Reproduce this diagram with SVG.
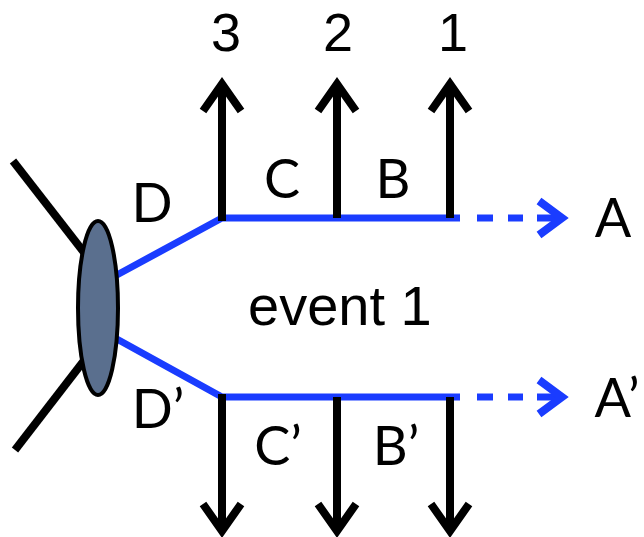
<svg xmlns="http://www.w3.org/2000/svg" width="644" height="537" viewBox="0 0 644 537">
  <style>
    .blk { stroke: #000; stroke-width: 8; fill: none; }
    .head { stroke: #000; stroke-width: 8; fill: none; stroke-linejoin: miter; stroke-miterlimit: 4; }
    .blue { stroke: #1a3cff; stroke-width: 7; fill: none; }
    .bhead { stroke: #1a3cff; stroke-width: 8; fill: none; stroke-linejoin: miter; }
    .lbl { font-family: Lato, "Open Sans", sans-serif; font-size: 54px; fill: #000; text-anchor: middle; }
    .num { font-family: "Liberation Sans", Arial, sans-serif; font-size: 54px; fill: #000; text-anchor: middle; }
    .ev { font-family: "Liberation Sans", Arial, sans-serif; font-size: 56px; fill: #000; }
  </style>

  <!-- connectors -->
  <g id="connectors">
    <!-- incoming legs -->
    <line class="blk" x1="13" y1="161" x2="86" y2="255"/>
    <line class="blk" x1="86" y1="358" x2="15" y2="450"/>

    <!-- upper blue path -->
    <polyline class="blue" points="115,276 222,218 460,218"/>
    <line class="blue" x1="477" y1="218" x2="493" y2="218"/>
    <line class="blue" x1="508" y1="218" x2="523" y2="218"/>
    <line class="blue" x1="537" y1="218" x2="561" y2="218"/>
    <polyline class="bhead" points="539,201 562,218 539,235"/>

    <!-- lower blue path -->
    <polyline class="blue" points="115,338 222,397 460,397"/>
    <line class="blue" x1="477" y1="397" x2="493" y2="397"/>
    <line class="blue" x1="508" y1="397" x2="523" y2="397"/>
    <line class="blue" x1="537" y1="397" x2="561" y2="397"/>
    <polyline class="bhead" points="539,380 562,397 539,414"/>

    <!-- upward emissions -->
    <line class="blk" x1="222" y1="221" x2="222" y2="86"/>
    <polyline class="head" points="203,111 222,84 241,111"/>
    <line class="blk" x1="337" y1="218" x2="337" y2="86"/>
    <polyline class="head" points="318,111 337,84 356,111"/>
    <line class="blk" x1="450" y1="218" x2="450" y2="86"/>
    <polyline class="head" points="431,111 450,84 469,111"/>

    <!-- downward emissions -->
    <line class="blk" x1="222" y1="394" x2="222" y2="529"/>
    <polyline class="head" points="203,504 222,531 241,504"/>
    <line class="blk" x1="337" y1="397" x2="337" y2="529"/>
    <polyline class="head" points="318,504 337,531 356,504"/>
    <line class="blk" x1="450" y1="397" x2="450" y2="529"/>
    <polyline class="head" points="431,504 450,531 469,504"/>
  </g>

  <!-- vertex blob -->
  <g id="vertex">
    <ellipse cx="98" cy="308" rx="20" ry="87" fill="#5a6f8e" stroke="#000" stroke-width="4"/>
  </g>

  <!-- labels -->
  <g id="labels">
    <text class="num" x="226" y="51">3</text>
    <text class="num" x="338" y="51">2</text>
    <text class="num" x="453" y="51">1</text>
    <text class="lbl" x="282" y="198">C</text>
    <text class="lbl" x="393" y="198">B</text>
    <text class="lbl" x="152" y="222">D</text>
    <text class="lbl" x="613" y="237">A</text>
    <text class="ev" x="248" y="325">event 1</text>
    <text class="lbl" x="158" y="428">D’</text>
    <text class="lbl" x="278" y="465">C’</text>
    <text class="lbl" x="396" y="465">B’</text>
    <text class="lbl" x="617" y="417">A’</text>
  </g>
</svg>
